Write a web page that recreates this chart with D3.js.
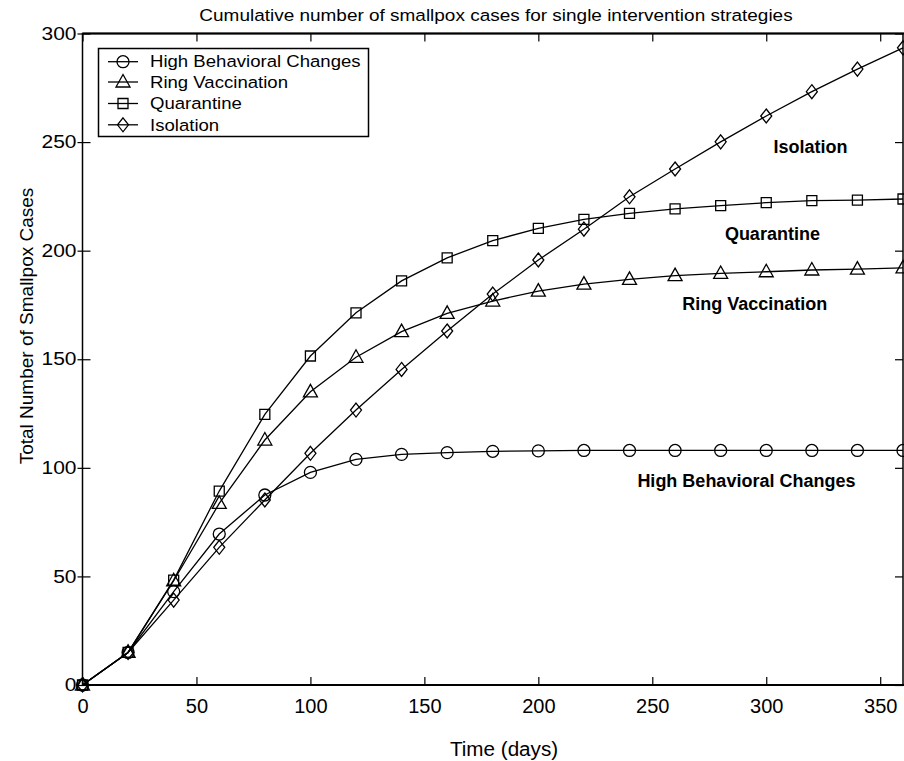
<!DOCTYPE html>
<html>
<head>
<meta charset="utf-8">
<script src="https://cdn.jsdelivr.net/npm/d3@7"></script>
<style>
  html, body { margin: 0; padding: 0; background: #fff; }
  svg text { font-family: "Liberation Sans", Arial, sans-serif; fill: #000; }
</style>
</head>
<body>
<svg id="chart"></svg>
<script>
// values, one point every 20 days
var days = [0, 20, 40, 60, 80, 100, 120, 140, 160, 180, 200, 220, 240, 260, 280, 300, 320, 340, 360];
var highBehavioral = [0, 15, 43, 69.5, 87.5, 97.9, 103.9, 106.2, 107, 107.6, 107.8, 108, 108, 108, 108, 108, 108, 108, 108];
var ringVaccination = [0, 15, 48, 83.6, 112.8, 135, 150.9, 162.7, 171.1, 176.8, 181.4, 184.6, 186.8, 188.5, 189.5, 190.3, 191.1, 191.5, 192.1];
var quarantine = [0, 15, 48.3, 89.3, 124.6, 151.5, 171.4, 186.1, 196.7, 204.6, 210.3, 214.4, 217.2, 219.2, 220.7, 222.1, 223, 223.3, 223.8];
var isolation = [0, 15, 39.1, 63.4, 85.2, 106.7, 126.6, 145.3, 163, 180, 195.7, 209.9, 224.8, 237.6, 250.1, 262, 273.2, 283.6, 293.4];
var seriesNames = ["High Behavioral Changes", "Ring Vaccination", "Quarantine", "Isolation"];
var seriesMarkers = ["circle", "triangle", "square", "diamond"];
var xTicks = [0, 50, 100, 150, 200, 250, 300, 350];
var yTicks = [0, 50, 100, 150, 200, 250, 300];
// in-plot labels, anchored in data units (day, cases)
var labelText = ["Isolation", "Quarantine", "Ring Vaccination", "High Behavioral Changes"];
var labelDay = [319.4, 302.7, 295, 291.3];
var labelCases = [244.9, 204.9, 172.6, 91.3];

var W = 904, H = 761,
  M = {left: 82.5, right: 1, top: 33.5, bottom: 76};

var svg = d3.select("#chart").attr("width", W).attr("height", H);

var x = d3.scaleLinear().domain([0, 360]).range([M.left, W - M.right]);
var y = d3.scaleLinear().domain([0, 300]).range([H - M.bottom, M.top]);

var series = [highBehavioral, ringVaccination, quarantine, isolation].map(function (vals, i) {
  return {name: seriesNames[i], marker: seriesMarkers[i], pts: days.map(function (d, j) { return [d, vals[j]] })};
});

// marker shapes as path strings centred on 0,0
var markerPath = function (m) {
  if (m == "circle") return "M6,0A6,6 0 1,1 -6,0A6,6 0 1,1 6,0Z";
  if (m == "square") return "M-5,-5H5V5H-5Z";
  if (m == "triangle") return "M0,-7.5L7,5L-7,5Z";
  return "M0,-7L5.5,0L0,7L-5.5,0Z";
};

// the original's lettering is a bit wider than Liberation Sans: stretch it horizontally
var widen = function (sel, sx) {
  sel.each(function () {
    var t = d3.select(this),
      tx = +t.attr("x") || 0,
      ty = +t.attr("y") || 0;
    t.attr("x", 0).attr("y", 0)
      .attr("transform", "translate(" + tx + "," + ty + ") scale(" + sx + ",1)");
  });
};

// title
svg.append("text")
  .attr("x", 496).attr("y", 21)
  .attr("text-anchor", "middle")
  .attr("font-size", "16.5px")
  .text("Cumulative number of smallpox cases for single intervention strategies")
  .call(widen, 1.15);

// axes: ticks point inwards like the original
var tickLen = 8;
svg.append("g")
  .attr("transform", "translate(0," + (H - M.bottom) + ")")
  .call(d3.axisBottom(x).tickValues(xTicks).tickSize(-tickLen).tickPadding(14).tickFormat(d3.format("d")))
  .call(function (g) {
    g.select(".domain").remove();
    g.selectAll("text").attr("font-size", "20px").attr("font-family", "Liberation Sans, Arial, sans-serif");
  });
svg.append("g")
  .attr("transform", "translate(0," + M.top + ")")
  .call(d3.axisTop(x).tickValues(xTicks).tickSize(-tickLen).tickFormat(""))
  .call(function (g) { g.select(".domain").remove() });
svg.append("g")
  .attr("transform", "translate(" + M.left + ",0)")
  .call(d3.axisLeft(y).tickValues(yTicks).tickSize(-tickLen).tickPadding(6).tickFormat(d3.format("d")))
  .call(function (g) {
    g.select(".domain").remove();
    g.selectAll(".tick line").attr("x1", -5);
    g.selectAll("text").attr("font-size", "17.8px").attr("font-family", "Liberation Sans, Arial, sans-serif")
      .call(widen, 1.18);
  });
svg.append("g")
  .attr("transform", "translate(" + (W - M.right) + ",0)")
  .call(d3.axisRight(y).tickValues(yTicks).tickSize(-tickLen).tickFormat(""))
  .call(function (g) { g.select(".domain").remove() });

svg.selectAll(".tick line").attr("stroke", "#000").attr("stroke-width", 1.2);

// frame
svg.append("rect")
  .attr("x", M.left).attr("y", M.top)
  .attr("width", W - M.right - M.left).attr("height", H - M.bottom - M.top)
  .attr("fill", "none").attr("stroke", "#000").attr("stroke-width", 1.5);
svg.append("line")
  .attr("x1", M.left).attr("x2", W).attr("y1", H - M.bottom).attr("y2", H - M.bottom)
  .attr("stroke", "#000").attr("stroke-width", 2.2);
svg.append("line")
  .attr("x1", M.left).attr("x2", W).attr("y1", M.top).attr("y2", M.top)
  .attr("stroke", "#000").attr("stroke-width", 2);

// axis labels
svg.append("text")
  .attr("x", 504).attr("y", 756)
  .attr("text-anchor", "middle")
  .attr("font-size", "19.5px")
  .text("Time (days)")
  .call(widen, 1.06);
svg.append("text")
  .attr("transform", "translate(33,326) rotate(-90)")
  .attr("text-anchor", "middle")
  .attr("font-size", "19px")
  .text("Total Number of Smallpox Cases");

// lines and markers
var line = d3.line().x(function (d) { return x(d[0]) }).y(function (d) { return y(d[1]) });
var sg = svg.append("g").selectAll("g")
  .data(series)
  .enter()
  .append("g");
sg.append("path")
  .attr("d", function (s) { return line(s.pts) })
  .attr("fill", "none").attr("stroke", "#000").attr("stroke-width", 1.3);
sg.selectAll("path.mk")
  .data(function (s) { return s.pts.map(function (p) { return {p: p, m: s.marker} }) })
  .enter()
  .append("path")
  .attr("class", "mk")
  .attr("transform", function (d) { return "translate(" + x(d.p[0]) + "," + y(d.p[1]) + ")" })
  .attr("d", function (d) { return markerPath(d.m) })
  .attr("fill", "none").attr("stroke", "#000").attr("stroke-width", 1.3);

// in-plot bold labels
svg.append("g").selectAll("text")
  .data(labelText)
  .enter()
  .append("text")
  .attr("x", function (d, i) { return x(labelDay[i]) })
  .attr("y", function (d, i) { return y(labelCases[i]) })
  .attr("text-anchor", "middle")
  .attr("font-weight", "bold")
  .attr("font-size", "18px")
  .text(function (d) { return d });

// legend
var legendRowY = [61.7, 82, 103.5, 124.8];
var lg = svg.append("g");
lg.append("rect")
  .attr("x", 98.5).attr("y", 48.5).attr("width", 270).attr("height", 88)
  .attr("fill", "#fff").attr("stroke", "#000").attr("stroke-width", 1.5);
var rows = lg.selectAll("g.row")
  .data(series)
  .enter()
  .append("g")
  .attr("class", "row")
  .attr("transform", function (d, i) { return "translate(0," + legendRowY[i] + ")" });
rows.append("line")
  .attr("x1", 108).attr("x2", 138)
  .attr("stroke", "#000").attr("stroke-width", 1.3);
rows.append("path")
  .attr("transform", "translate(123,0)")
  .attr("d", function (d) { return markerPath(d.marker) })
  .attr("fill", "none").attr("stroke", "#000").attr("stroke-width", 1.3);
rows.append("text")
  .attr("x", 150).attr("y", 0).attr("dy", "0.35em")
  .attr("font-size", "16.3px")
  .text(function (d) { return d.name })
  .call(widen, 1.14);
</script>
</body>
</html>
